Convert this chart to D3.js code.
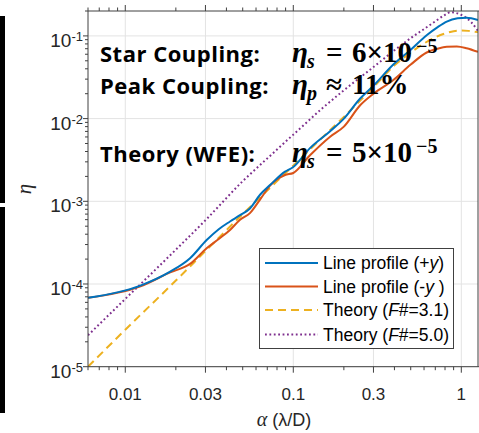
<!DOCTYPE html>
<html><head><meta charset="utf-8">
<script src="https://cdn.jsdelivr.net/npm/d3@7"></script>
<style>body{margin:0;background:#fff}svg{display:block}</style>
</head><body><svg id="c" width="479" height="433"></svg>
<script>
// ---- data ----
const xTickVals = [0.01, 0.03, 0.1, 0.3, 1];
const xTickLabels = ["0.01", "0.03", "0.1", "0.3", "1"];
const yTickExps = [-5, -4, -3, -2, -1];

const xPlus = [0.006,0.0122,0.0185,0.0243,0.0305,0.036,0.042,0.0482,0.0552,0.0634,0.0727,0.0893,0.1,0.1257,0.165,0.2,0.25,0.3,0.394,0.5,0.622,0.72,0.819,0.95,1.076,1.257];
const yPlus = [6.8e-5,9.5e-5,1.41e-4,2.05e-4,3.4e-4,4.6e-4,5.7e-4,6.8e-4,8.2e-4,1.2e-3,1.57e-3,2.28e-3,2.6e-3,4.4e-3,7.0e-3,1.0e-2,1.75e-2,2.5e-2,4.5e-2,6.8e-2,1.02e-1,1.27e-1,1.49e-1,1.63e-1,1.66e-1,1.56e-1];

const xMinus = [0.006,0.0122,0.0185,0.0243,0.0305,0.036,0.042,0.0482,0.0552,0.0634,0.0727,0.0893,0.1,0.1257,0.165,0.2,0.25,0.3,0.394,0.5,0.622,0.72,0.819,0.94,1.076,1.257];
const yMinus = [6.8e-5,9.3e-5,1.38e-4,1.75e-4,2.7e-4,3.5e-4,4.5e-4,6.0e-4,7.2e-4,1.05e-3,1.55e-3,2.08e-3,2.2e-3,3.6e-3,6.0e-3,8.0e-3,1.45e-2,2.0e-2,2.93e-2,4.5e-2,6.3e-2,7.0e-2,7.4e-2,7.45e-2,7.1e-2,6.4e-2];

const xTh31 = [0.006,0.01,0.02,0.03,0.05,0.07,0.1,0.15,0.2,0.3,0.4,0.5,0.6,0.7,0.8,0.9,1.0,1.1,1.257];
const yTh31 = [1.0e-5,2.8e-5,1.1e-4,2.5e-4,7.0e-4,1.35e-3,2.7e-3,6.0e-3,1.05e-2,2.4e-2,4.4e-2,6.3e-2,8.1e-2,9.6e-2,1.07e-1,1.14e-1,1.16e-1,1.15e-1,1.11e-1];

const xTh50 = [0.006,0.01,0.02,0.03,0.05,0.07,0.1,0.15,0.2,0.3,0.4,0.5,0.6,0.7,0.8,0.86,0.92,1.0,1.076,1.15,1.257];
const yTh50 = [2.4e-5,6.6e-5,2.6e-4,5.9e-4,1.75e-3,3.3e-3,6.4e-3,1.35e-2,2.2e-2,4.2e-2,6.7e-2,9.4e-2,1.21e-1,1.5e-1,1.8e-1,1.93e-1,1.9e-1,1.8e-1,1.64e-1,1.45e-1,1.15e-1];

const legendLabels = [["Line profile (+","y",")"],["Line profile (-","y"," )"],["Theory (","F","#=3.1)"],["Theory (","F","#=5.0)"]];

// ---- layout ----
const svg = d3.select("#c");
const L = 88, R = 478, T = 11, B = 366.7;
const x = d3.scaleLog().domain([0.006, 1.257]).range([L, R]);
const y = d3.scaleLog().domain([1e-5, 0.2]).range([B, T]);
const axisCol = "#404040", textCol = "#262626";

// black bars at the far left
svg.append("rect").attr("x",0).attr("y",16).attr("width",5).attr("height",187).attr("fill","#000");
svg.append("rect").attr("x",0).attr("y",207).attr("width",5).attr("height",206).attr("fill","#000");

// grid
const g = svg.append("g");
xTickVals.forEach(v => g.append("line").attr("x1",x(v)).attr("x2",x(v)).attr("y1",T).attr("y2",B).attr("stroke","#e3e3e3").attr("stroke-width",1));
yTickExps.forEach(e => g.append("line").attr("x1",L).attr("x2",R).attr("y1",y(Math.pow(10,e))).attr("y2",y(Math.pow(10,e))).attr("stroke","#e3e3e3").attr("stroke-width",1));

// ticks
const xMinor = [];
[0.001,0.01,0.1,1].forEach(d => { for (let k=1;k<=9;k++){ const v=+(k*d).toPrecision(3); if (v>=0.006 && v<=1.257 && !xTickVals.includes(v)) xMinor.push(v);} });
const yMinor = [];
[-5,-4,-3,-2,-1].forEach(e => { for (let k=2;k<=9;k++){ const v=k*Math.pow(10,e); if (v<=0.2) yMinor.push(v);} });
const tk = svg.append("g").attr("stroke",axisCol).attr("stroke-width",1);
xTickVals.forEach(v => { tk.append("line").attr("x1",x(v)).attr("x2",x(v)).attr("y1",B).attr("y2",B+6);
  tk.append("line").attr("x1",x(v)).attr("x2",x(v)).attr("y1",T).attr("y2",T-6); });
xMinor.forEach(v => { tk.append("line").attr("x1",x(v)).attr("x2",x(v)).attr("y1",B).attr("y2",B+3.5);
  tk.append("line").attr("x1",x(v)).attr("x2",x(v)).attr("y1",T).attr("y2",T-3.5); });
yTickExps.forEach(e => tk.append("line").attr("x1",L-5).attr("x2",L).attr("y1",y(Math.pow(10,e))).attr("y2",y(Math.pow(10,e))));
yMinor.forEach(v => tk.append("line").attr("x1",L-3).attr("x2",L).attr("y1",y(v)).attr("y2",y(v)));

// series
const line = d3.line().x(d=>x(d[0])).y(d=>y(d[1])).curve(d3.curveMonotoneX);
const zip = (a,b)=>a.map((v,i)=>[v,b[i]]);
svg.append("clipPath").attr("id","pc").append("rect").attr("x",L).attr("y",T).attr("width",R-L).attr("height",B-T);
const sg = svg.append("g").attr("clip-path","url(#pc)").attr("fill","none");
sg.append("path").attr("d",line(zip(xTh50,yTh50))).attr("stroke","#7E2F8E").attr("stroke-width",2).attr("stroke-dasharray","1.8,2.6");
sg.append("path").attr("d",line(zip(xTh31,yTh31))).attr("stroke","#EDB120").attr("stroke-width",2).attr("stroke-dasharray","8,5");
sg.append("path").attr("d",line(zip(xMinus,yMinus))).attr("stroke","#D95319").attr("stroke-width",2);
sg.append("path").attr("d",line(zip(xPlus,yPlus))).attr("stroke","#0072BD").attr("stroke-width",2);

// axis box
const bx = svg.append("g").attr("stroke",axisCol).attr("stroke-width",1);
bx.append("line").attr("x1",L).attr("x2",L).attr("y1",T).attr("y2",B);
bx.append("line").attr("x1",L).attr("x2",R+1).attr("y1",B).attr("y2",B);
bx.append("line").attr("x1",L).attr("x2",R+1).attr("y1",T).attr("y2",T);
bx.append("line").attr("x1",R).attr("x2",R).attr("y1",T).attr("y2",B);

// tick labels
const font = "'Liberation Sans', Arial, Helvetica, sans-serif";
xTickVals.forEach((v,i) => svg.append("text").attr("x",x(v)).attr("y",400).attr("text-anchor","middle")
  .attr("font-family",font).attr("font-size",17).attr("fill",textCol).text(xTickLabels[i]));
yTickExps.forEach(e => {
  const t = svg.append("text").attr("x",83).attr("y",y(Math.pow(10,e))+11).attr("text-anchor","end")
    .attr("font-family",font).attr("font-size",19).attr("fill",textCol);
  t.append("tspan").text("10");
  t.append("tspan").attr("font-size",13).attr("dy",-6).text("-"+Math.abs(e));
});

// axis labels
const xl = svg.append("text").attr("x",284).attr("y",426).attr("text-anchor","middle").attr("font-family",font).attr("font-size",18).attr("fill",textCol);
xl.append("tspan").attr("font-family","'Liberation Serif', serif").attr("font-style","italic").attr("font-size",20).text("α");
xl.append("tspan").text(" (λ/D)");
svg.append("text").attr("transform","translate(31,189) rotate(-90)").attr("text-anchor","middle")
  .attr("font-family","'Liberation Serif', serif").attr("font-style","italic").attr("font-size",21).attr("fill",textCol).text("η");

// legend
const lg = svg.append("g");
lg.append("rect").attr("x",259.5).attr("y",248.5).attr("width",194).attr("height",100).attr("fill","#fff").attr("stroke",axisCol).attr("stroke-width",1);
const lgY = [263, 286.5, 310, 334.5];
const lgStyles = [["#0072BD",null],["#D95319",null],["#EDB120","8,5"],["#7E2F8E","1.8,2.6"]];
lgY.forEach((yy,i)=>{
  const l = lg.append("line").attr("x1",265).attr("x2",318).attr("y1",yy).attr("y2",yy).attr("stroke",lgStyles[i][0]).attr("stroke-width",2);
  if (lgStyles[i][1]) l.attr("stroke-dasharray",lgStyles[i][1]);
  const t = lg.append("text").attr("x",323).attr("y",yy+6).attr("font-family",font).attr("font-size",17.5).attr("fill","#000");
  t.append("tspan").text(legendLabels[i][0]);
  t.append("tspan").attr("font-style","italic").text(legendLabels[i][1]);
  t.append("tspan").text(legendLabels[i][2]);
});

// annotations
const af = "'Open Sans', 'Lato', sans-serif";
[["Star Coupling:",62],["Peak Coupling:",93.5],["Theory (WFE):",162]].forEach(d =>
  svg.append("text").attr("x",100).attr("y",d[1]).attr("font-family",af).attr("font-weight","bold").attr("font-size",22).attr("letter-spacing",0.5).attr("fill","#000").text(d[0]));
const mf = "'Liberation Serif', 'Times New Roman', serif";
function mathLine(yb, sub, rel, num, sup) {
  const gg = svg.append("g").attr("font-family",mf).attr("font-weight","bold").attr("fill","#000");
  gg.append("text").attr("x",292).attr("y",yb).attr("font-size",29).attr("font-style","italic").text("η");
  gg.append("text").attr("x",307).attr("y",yb+6).attr("font-size",20).attr("font-style","italic").text(sub);
  gg.append("text").attr("x",326).attr("y",yb).attr("font-size",29).text(rel);
  gg.append("text").attr("x",352).attr("y",yb).attr("font-size",29).text(num);
  if (sup) gg.append("text").attr("x",416).attr("y",yb-9).attr("font-size",20).text(sup);
}
mathLine(62, "s", "=", "6×10", "−5");
mathLine(94, "p", "≈", "11%", null);
mathLine(161.5, "s", "=", "5×10", "−5");
</script>
</body></html>
